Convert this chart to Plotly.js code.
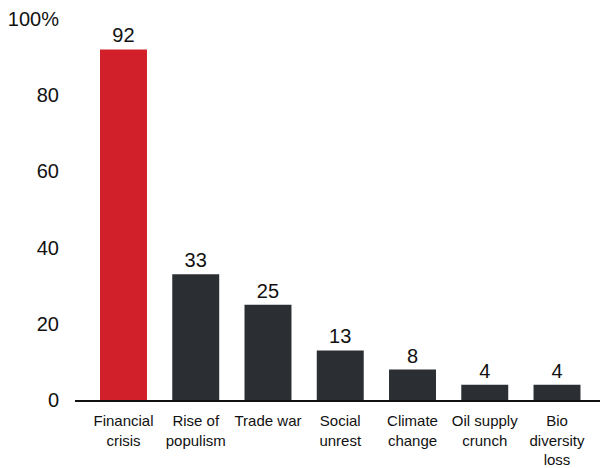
<!DOCTYPE html>
<html>
<head>
<meta charset="utf-8">
<script src="https://cdn.plot.ly/plotly-3.0.1.min.js"></script>
<style>html,body{margin:0;padding:0;background:#fff;}#chart{width:603px;height:468px;}</style>
</head>
<body>
<div id="chart"></div>
<script>
const categories = ["Financial<br>crisis", "Rise of<br>populism", "Trade war", "Social<br>unrest", "Climate<br>change", "Oil supply<br>crunch", "Bio<br>diversity<br>loss"];
const values = [92, 33, 25, 13, 8, 4, 4];
const barColors = ["#d2202a", "#2b2e32", "#2b2e32", "#2b2e32", "#2b2e32", "#2b2e32", "#2b2e32"];
const yTickVals = [0, 20, 40, 60, 80, 100];
const yTickText = ["0", "20", "40", "60", "80", "100%"];

const trace = {
  type: "bar",
  x: categories.map((c, i) => i),
  y: values,
  marker: {color: barColors},
  text: values.map(String),
  textposition: "outside",
  cliponaxis: false,
  textfont: {family: "Liberation Sans, Arial, sans-serif", size: 20, color: "#111"},
  width: 0.65,
  hoverinfo: "none"
};

const layout = {
  width: 603, height: 468,
  margin: {l: 75, r: 3, t: 19, b: 68},
  paper_bgcolor: "#fff", plot_bgcolor: "#fff",
  showlegend: false,
  font: {family: "Liberation Sans, Arial, sans-serif", color: "#111"},
  xaxis: {
    range: [-0.671, 6.595],
    tickmode: "array",
    tickvals: categories.map((c, i) => i),
    ticktext: categories,
    tickfont: {size: 15, color: "#111"},
    showgrid: false, zeroline: false,
    showline: true, linecolor: "#111", linewidth: 2,
    ticks: "",
    ticklabelstandoff: 6
  },
  yaxis: {
    range: [0, 100],
    tickmode: "array",
    tickvals: yTickVals,
    ticktext: yTickText,
    tickfont: {size: 20, color: "#111"},
    showgrid: false, zeroline: false, showline: false,
    ticks: "outside", ticklen: 11, tickcolor: "rgba(0,0,0,0)"
  }
};

Plotly.newPlot("chart", [trace], layout, {displayModeBar: false, staticPlot: true});
</script>
</body>
</html>
